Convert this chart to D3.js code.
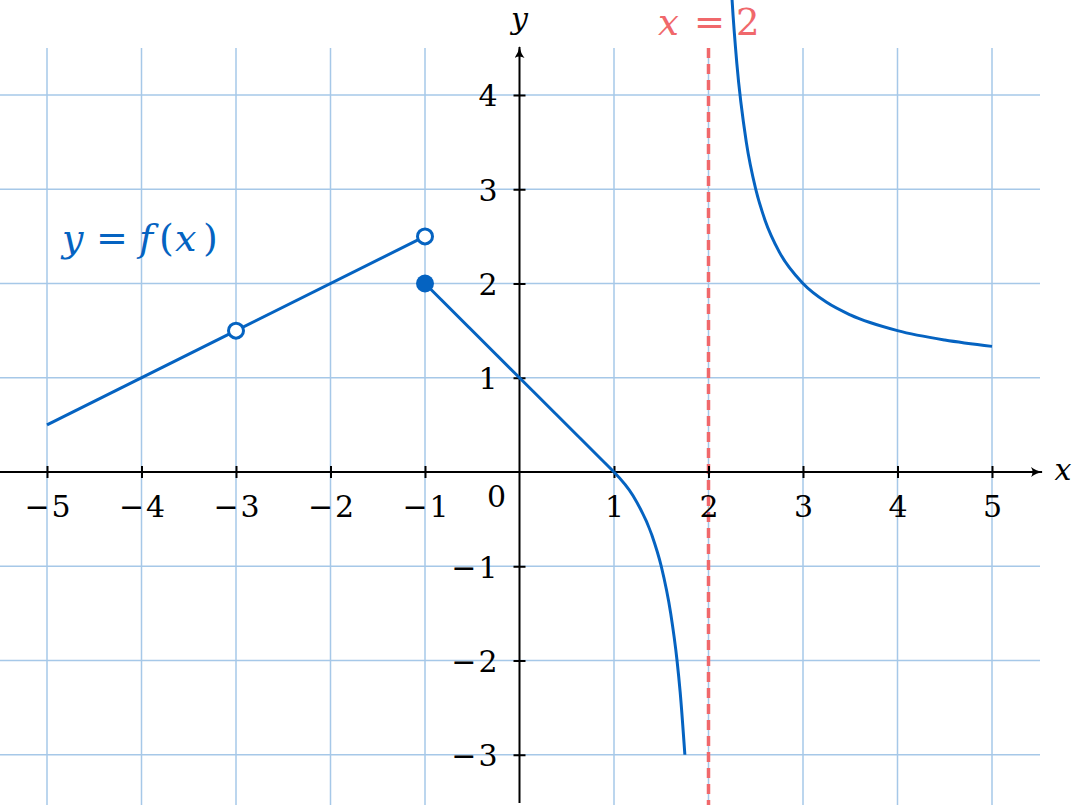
<!DOCTYPE html>
<html><head><meta charset="utf-8">
<script src="https://cdn.jsdelivr.net/npm/d3@7"></script>
<style>body{margin:0;background:#fff}svg{display:block}
text{font-family:"DejaVu Serif",serif}</style>
</head><body>
<svg id="c" width="1073" height="805"></svg>
<script>
const xTicks = [-5,-4,-3,-2,-1,1,2,3,4,5];
const yTicks = [-3,-2,-1,1,2,3,4];
const seg1 = [[-5,0.5],[-3,1.5],[-1,2.5]];
const seg2 = [[-1,2],[0,1],[1,0]];
const branchLeft = [[1,0],[1.2,-0.25],[1.4,-0.667],[1.5,-1],[1.6,-1.5],[1.667,-2],[1.7,-2.333],[1.75,-3]];
const branchRight = [[2.2,6],[2.25,5],[2.3,4.333],[2.4,3.5],[2.5,3],[2.6,2.667],[2.75,2.333],[3,2],[3.25,1.8],[3.5,1.667],[4,1.5],[4.5,1.4],[5,1.333]];
const openPts = [[-3,1.5],[-1,2.5]];
const filledPts = [[-1,2]];
const asymptoteX = 2;

const blue = "#0563c1", red = "#f0686b", grid = "#a6c8e8";
const svg = d3.select("#c");
const x = d3.scaleLinear().domain([-5,5]).range([47,992]);
const y = d3.scaleLinear().domain([0,4]).range([472,95]);
const fmt = d=>d<0?"\u2212"+(-d):d;

// grid
svg.append("g").selectAll("line").data(xTicks).join("line")
  .attr("x1",d=>x(d)).attr("x2",d=>x(d)).attr("y1",48).attr("y2",805)
  .attr("stroke",grid).attr("stroke-width",1.5);
svg.append("g").selectAll("line").data(yTicks).join("line")
  .attr("x1",0).attr("x2",1040).attr("y1",d=>y(d)).attr("y2",d=>y(d))
  .attr("stroke",grid).attr("stroke-width",1.5);

// asymptote
svg.append("line").attr("x1",x(asymptoteX)).attr("x2",x(asymptoteX)).attr("y1",48).attr("y2",805)
  .attr("stroke",red).attr("stroke-width",3.5).attr("stroke-dasharray","10,6");

// axes
const defs = svg.append("defs");
defs.append("marker").attr("id","arr").attr("viewBox","0 0 12 10").attr("refX",11).attr("refY",5)
  .attr("markerWidth",12).attr("markerHeight",10).attr("markerUnits","userSpaceOnUse").attr("orient","auto")
  .append("path").attr("d","M0,0 Q5,4 12,5 Q5,6 0,10 Q3,5 0,0").attr("fill","#000");
svg.append("line").attr("x1",0).attr("x2",1042).attr("y1",y(0)).attr("y2",y(0))
  .attr("stroke","#000").attr("stroke-width",2).attr("marker-end","url(#arr)");
svg.append("line").attr("x1",x(0)).attr("x2",x(0)).attr("y1",803).attr("y2",47)
  .attr("stroke","#000").attr("stroke-width",2).attr("marker-end","url(#arr)");

function styleLabels(sel){
  sel.each(function(d){
    const t = d3.select(this); t.text(null);
    if(d<0){
      t.append("tspan").text("\u2212");
      t.append("tspan").attr("dx",2).text(-d);
    } else t.append("tspan").text(d);
  });
}

const xAxis = d3.axisBottom(x).tickValues(xTicks).tickSize(0).tickPadding(0).tickFormat(fmt);
const gx = svg.append("g").attr("transform",`translate(0,${y(0)})`).call(xAxis);
gx.attr("font-family",null).attr("font-size",null);
gx.select(".domain").remove();
gx.selectAll(".tick line").remove();
gx.selectAll(".tick").append("line").attr("y1",-6).attr("y2",6).attr("stroke","#000").attr("stroke-width",2);
gx.selectAll(".tick text").attr("y",45).attr("dy",null).attr("fill","#000").style("font-size","30px").call(styleLabels);

const yAxis = d3.axisLeft(y).tickValues(yTicks).tickSize(0).tickPadding(0).tickFormat(fmt);
const gy = svg.append("g").attr("transform",`translate(${x(0)},0)`).call(yAxis);
gy.attr("font-family",null).attr("font-size",null);
gy.select(".domain").remove();
gy.selectAll(".tick line").remove();
gy.selectAll(".tick").append("line").attr("x1",-6).attr("x2",6).attr("stroke","#000").attr("stroke-width",2);
gy.selectAll(".tick text").attr("x",-22).attr("dy","0.36em").attr("fill","#000").style("font-size","30px").call(styleLabels);

svg.append("text").attr("x",x(0)-23).attr("y",y(0)+35).attr("text-anchor","middle")
  .style("font-size","30px").text("0");
svg.append("text").attr("x",1063).attr("y",y(0)+8).attr("text-anchor","middle")
  .style("font-style","italic").style("font-size","30px").text("x");
svg.append("text").attr("x",x(0)).attr("y",29).attr("text-anchor","middle")
  .style("font-style","italic").style("font-size","30px").text("y");

// curves
const line = d3.line().x(d=>x(d[0])).y(d=>y(d[1]));
const lineC = d3.line().x(d=>x(d[0])).y(d=>y(d[1])).curve(d3.curveMonotoneX);
const cg = svg.append("g").attr("fill","none").attr("stroke",blue).attr("stroke-width",3);
cg.append("path").attr("d",line(seg1));
cg.append("path").attr("d",line(seg2));
cg.append("path").attr("d",lineC(branchLeft));
cg.append("path").attr("d",lineC(branchRight));

svg.selectAll("circle.o").data(openPts).join("circle").attr("class","o")
  .attr("cx",d=>x(d[0])).attr("cy",d=>y(d[1])).attr("r",7.5)
  .attr("fill","#fff").attr("stroke",blue).attr("stroke-width",3);
svg.selectAll("circle.f").data(filledPts).join("circle").attr("class","f")
  .attr("cx",d=>x(d[0])).attr("cy",d=>y(d[1])).attr("r",9).attr("fill",blue);

// labels
const lab = svg.append("text").attr("y",251).attr("fill",blue).style("font-size","38px");
lab.append("tspan").attr("x",62).style("font-style","italic").text("y");
lab.append("tspan").attr("x",96).text("=");
lab.append("tspan").attr("x",139).style("font-style","italic").text("f");
lab.append("tspan").attr("x",159).text("(");
lab.append("tspan").attr("x",175).style("font-style","italic").text("x");
lab.append("tspan").attr("x",203).text(")");

const lab2 = svg.append("text").attr("y",35).attr("fill",red).style("font-size","37px");
lab2.append("tspan").attr("x",658).style("font-style","italic").text("x");
lab2.append("tspan").attr("x",694).text("=");
lab2.append("tspan").attr("x",736).text("2");
</script>
</body></html>
